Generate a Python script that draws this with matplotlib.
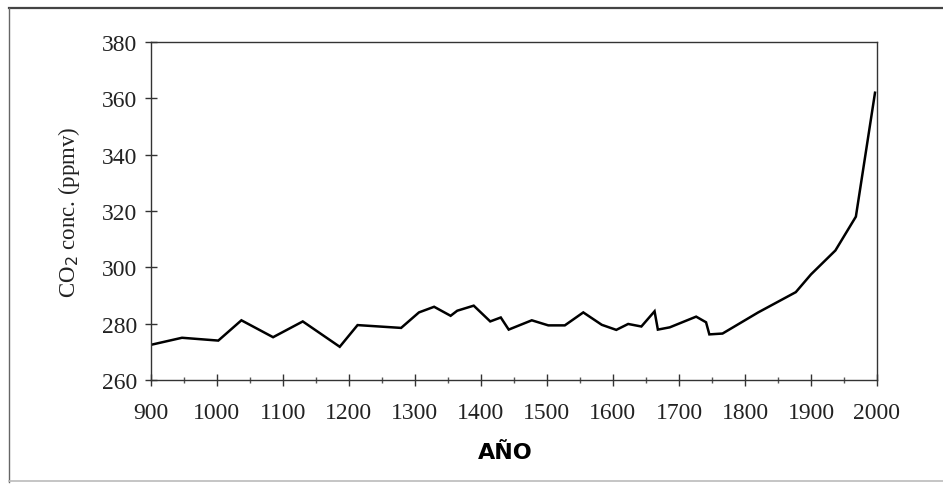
import matplotlib
matplotlib.use("Agg")
import matplotlib.pyplot as plt
from matplotlib.lines import Line2D
from matplotlib.ticker import MultipleLocator

# CO2 record
years = [900, 947, 1002, 1037, 1085, 1130, 1186, 1213, 1279, 1306, 1329, 1354,
         1364, 1389, 1414, 1430, 1442, 1477, 1502, 1527, 1555, 1583, 1605,
         1623, 1643, 1663, 1668, 1686, 1726, 1741, 1746, 1766, 1820, 1877,
         1900, 1937, 1968, 1997]
co2 = [272.5, 275.0, 274.0, 281.2, 275.2, 280.8, 271.8, 279.5, 278.5, 284.0,
       286.0, 282.8, 284.6, 286.4, 280.8, 282.2, 277.9, 281.2, 279.4, 279.4,
       284.0, 279.6, 277.8, 279.9, 279.0, 284.4, 277.9, 278.7, 282.5, 280.5,
       276.2, 276.5, 284.0, 291.2, 297.5, 306.0, 318.0, 362.0]

x_ticks = list(range(900, 2001, 100))
y_ticks = list(range(260, 381, 20))

fig = plt.figure(figsize=(9.43, 4.85), dpi=100)
ax = fig.add_axes([0.1601, 0.2144, 0.7699, 0.6969])

ax.plot(years, co2, color="black", lw=1.8, solid_joinstyle="miter")

ax.set_xlim(900, 2000)
ax.set_ylim(260, 380)
ax.set_xticks(x_ticks)
ax.set_yticks(y_ticks)
ax.xaxis.set_minor_locator(MultipleLocator(50))

serif = ["Liberation Serif", "DejaVu Serif"]
ax.tick_params(axis="both", which="major", direction="inout", length=8,
               width=1, color="#333333", labelsize=17)
ax.tick_params(axis="x", which="major", pad=12)
ax.tick_params(axis="y", which="major", pad=6)
ax.tick_params(axis="x", which="minor", direction="inout", length=4,
               width=1, color="#555555")
for lab in ax.get_xticklabels() + ax.get_yticklabels():
    lab.set_family(serif)
    lab.set_color("#222222")
for s in ax.spines.values():
    s.set_linewidth(1.0)
    s.set_color("#333333")

ax.set_ylabel("CO$_2$ conc. (ppmv)", family=serif, fontsize=16.5,
              color="#222222", labelpad=14)
fig.text(0.536, 0.066, "AÑO", ha="center", va="center",
         fontsize=16, fontweight="bold", family="DejaVu Sans")

# outer frame of the scanned figure
fig.add_artist(Line2D([0.0095, 1.0], [0.9815, 0.9815], transform=fig.transFigure,
                      color="#444444", lw=1.6))
fig.add_artist(Line2D([0.0095, 0.0095], [0.004, 0.9815], transform=fig.transFigure,
                      color="#666666", lw=1.0))
fig.add_artist(Line2D([0.0095, 1.0], [0.006, 0.006], transform=fig.transFigure,
                      color="#bbbbbb", lw=1.2))

fig.savefig("out.png", dpi=100)
